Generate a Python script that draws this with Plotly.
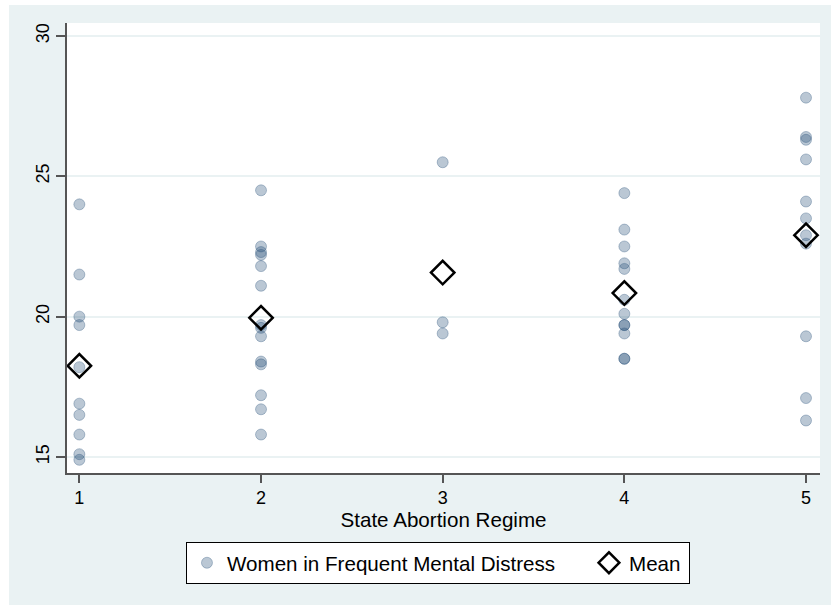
import plotly.graph_objects as go

# State abortion regime categories
regimes = [1, 2, 3, 4, 5]
x_ticklabels = ["1", "2", "3", "4", "5"]

# Percent of women in frequent mental distress, by regime
regime1 = [24.0, 21.5, 20.0, 19.7, 18.2, 16.9, 16.5, 15.8, 15.1, 14.9]
regime2 = [24.5, 22.5, 22.3, 22.2, 21.8, 21.1, 19.7, 19.6, 19.3, 18.4, 18.3, 17.2, 16.7, 15.8]
regime3 = [25.5, 19.8, 19.4]
regime4 = [24.4, 23.1, 22.5, 21.9, 21.7, 20.6, 20.1, 19.7, 19.7, 19.4, 18.5, 18.5]
regime5 = [27.8, 26.4, 26.3, 25.6, 24.1, 23.5, 22.9, 22.6, 19.3, 17.1, 16.3]

# Means per regime
means = [18.25, 19.96, 21.57, 20.84, 22.90]

y_ticks = [15, 20, 25, 30]

groups = [regime1, regime2, regime3, regime4, regime5]
xs, ys = [], []
for r, vals in zip(regimes, groups):
    xs += [r] * len(vals)
    ys += vals

FONT = "Arial, Liberation Sans, sans-serif"
GRID = "#EAF2F3"

fig = go.Figure()
fig.add_trace(go.Scatter(
    x=xs, y=ys, mode="markers",
    name="Women in Frequent Mental Distress",
    marker=dict(symbol="circle", size=11,
                color="rgba(26,71,111,0.3)",
                line=dict(color="rgba(26,71,111,0.3)", width=1)),
    legendwidth=357,
))
fig.add_trace(go.Scatter(
    x=regimes, y=means, mode="markers", name="Mean",
    marker=dict(symbol="diamond-open", size=18, color="black",
                line=dict(color="black", width=2.5)),
    legendwidth=55,
))

fig.update_layout(
    width=831, height=605,
    margin=dict(l=67, r=11, t=23, b=132),
    paper_bgcolor="white",
    plot_bgcolor="white",
    font=dict(family=FONT, size=18, color="black"),
    showlegend=True,
    legend=dict(orientation="h", x=0.158, xanchor="left", y=-0.153, yanchor="top",
                bgcolor="white", bordercolor="black", borderwidth=1,
                font=dict(size=20.6, family=FONT), itemsizing="trace"),
    shapes=[
        dict(type="rect", xref="paper", yref="paper", x0=-0.077, x1=1.03,
             y0=-0.31, y1=1.04, fillcolor=GRID, line=dict(width=0), layer="below"),
        dict(type="rect", xref="paper", yref="paper", x0=0, x1=1,
             y0=0, y1=1, fillcolor="white", line=dict(width=0), layer="below"),
    ],
)
fig.update_xaxes(
    range=[0.932, 5.077], tickvals=regimes, ticktext=x_ticklabels,
    showgrid=False, zeroline=False,
    showline=True, linecolor="#555555", linewidth=1.5,
    ticks="outside", ticklen=8, tickcolor="#555555", tickwidth=1.5,
    tickfont=dict(size=18),
    title=dict(text="State Abortion Regime", font=dict(size=20.6), standoff=4),
)
fig.update_yaxes(
    range=[14.43, 30.46], tickvals=y_ticks,
    showgrid=True, gridcolor=GRID, gridwidth=2, zeroline=False,
    showline=True, linecolor="#555555", linewidth=1.5,
    ticks="outside", ticklen=9, tickcolor="#555555", tickwidth=1.5,
    tickangle=-90, tickfont=dict(size=18),
)

fig.write_html("out.html",
               config={"displayModeBar": False},
               post_script="document.body.style.margin='0';document.body.style.padding='0';")
